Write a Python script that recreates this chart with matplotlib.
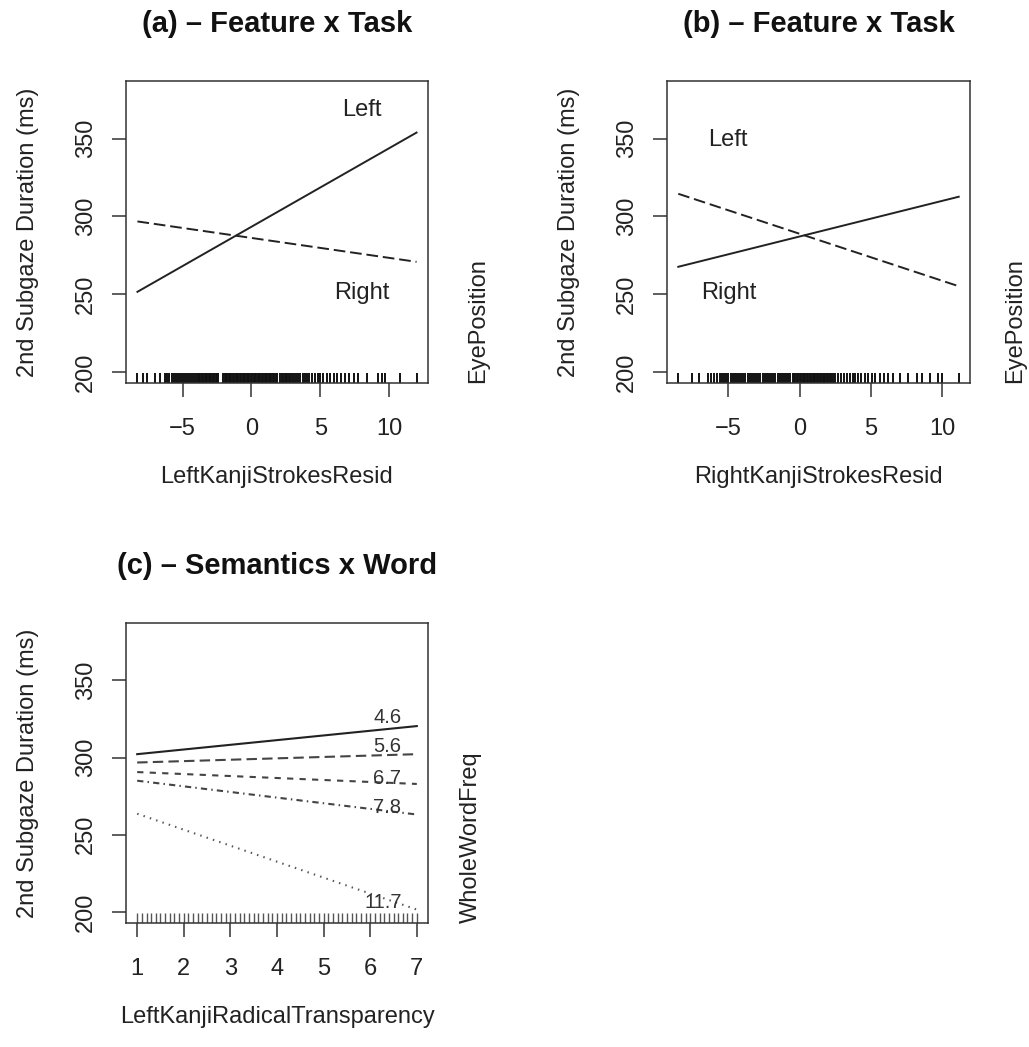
import matplotlib
matplotlib.use('Agg')
import matplotlib.pyplot as plt
import numpy as np

plt.rcParams['font.family'] = ['Liberation Sans', 'DejaVu Sans']

# ---- data ----
# panel (a): LeftKanjiStrokesResid x EyePosition
a_x = [-8.27, 11.97]
a_left = [251.5, 354.0]     # solid
a_right = [296.8, 270.8]    # dashed
a_rug = [-8.27, -7.9, -7.6, -7.0, -6.6, -6.3,
         -6.1, -5.95, -5.8, -5.65, -5.5, -5.35, -5.2, -5.05, -4.9, -4.75, -4.6,
         -4.45, -4.3, -4.15, -4.0, -3.9, -3.8, -3.7, -3.6, -3.5, -3.4, -3.3, -3.2,
         -3.1, -3.0, -2.9, -2.8, -2.7, -2.6, -2.5, -2.4, -2.05, -1.95, -1.85,
         -1.75, -1.65, -1.55, -1.45, -1.35, -1.25, -1.15, -1.05, -0.95, -0.85,
         -0.75, -0.65, -0.55, -0.45, -0.35, -0.25, -0.15, -0.05, 0.05, 0.15, 0.25,
         0.35, 0.45, 0.55, 0.65, 0.75, 0.85, 0.95, 1.05, 1.15, 1.25, 1.35, 1.45,
         1.55, 1.65, 1.75, 1.85, 2.1, 2.2, 2.3, 2.4, 2.5, 2.6, 2.7, 2.8, 2.95,
         3.1, 3.25, 3.4, 3.55, 3.7, 3.85, 4.0, 4.2, 4.4, 4.6, 4.8, 5.0, 5.2, 5.45,
         5.7, 5.95, 6.2, 6.5, 6.8, 7.1, 7.4, 7.7,
         8.4, 9.2, 9.5, 9.7, 10.8, 11.97]

# panel (b): RightKanjiStrokesResid x EyePosition
b_x = [-8.51, 11.14]
b_left = [267.6, 312.7]
b_right = [314.6, 255.1]
b_rug = [-8.51, -7.57, -7.08,
         -6.4, -6.2, -6.0, -5.8, -5.6, -5.45, -5.3, -5.15, -5.0, -4.85, -4.7,
         -4.55, -4.4, -4.25, -4.1, -3.95, -3.8, -3.65, -3.5, -3.35, -3.2, -3.05,
         -2.9, -2.75, -2.6, -2.45, -2.3, -2.15, -2.0, -1.85, -1.7, -1.55, -1.4,
         -1.25, -1.1, -0.95, -0.8, -0.65, -0.5, -0.4, -0.3, -0.2, -0.1, 0.0, 0.1,
         0.2, 0.3, 0.4, 0.5, 0.6, 0.7, 0.8, 0.9, 1.0, 1.1, 1.2, 1.3, 1.4, 1.5,
         1.6, 1.7, 1.8, 1.9, 2.0, 2.1, 2.2, 2.35, 2.5, 2.7, 2.9, 3.1, 3.3, 3.5,
         3.7, 3.9, 4.1, 4.3, 4.55, 4.8, 5.05, 5.3, 5.6, 5.9, 6.2, 6.5,
         7.0, 7.6, 8.2, 8.6, 9.1, 9.7, 10.0, 11.14]

# panel (c): LeftKanjiRadicalTransparency x WholeWordFreq
c_x = [1, 7]
c_freq = ['4.6', '5.6', '6.7', '7.8', '11.7']
c_start = [302.2, 296.8, 290.6, 285.0, 263.6]
c_end = [320.4, 302.2, 282.9, 263.1, 201.5]
c_lab_x = [6.37, 6.37, 6.37, 6.35, 6.27]
c_lab_y = [326.0, 307.0, 286.7, 267.4, 206.0]
c_rug = [1.0, 1.1, 1.2, 1.3, 1.4, 1.5, 1.6, 1.7, 1.8, 1.9, 2.0, 2.1, 2.2, 2.3, 2.4,
         2.5, 2.6, 2.7, 2.8, 2.9, 3.0, 3.1, 3.2, 3.3, 3.4, 3.5, 3.6, 3.7, 3.8, 3.9,
         4.0, 4.1, 4.2, 4.3, 4.4, 4.5, 4.6, 4.7, 4.8, 4.9, 5.0, 5.1, 5.2, 5.3, 5.4,
         5.5, 5.6, 5.7, 5.8, 5.9, 6.0, 6.1, 6.2, 6.3, 6.4, 6.5, 6.6, 6.7, 6.8, 6.9,
         7.0]

yticks = [200, 250, 300, 350]
ylim = (192.8, 387.2)
ylab = '2nd Subgaze Duration (ms)'

W, H = 1029, 1047
fig = plt.figure(figsize=(W / 100, H / 100), dpi=100)


def px(l, t, r, b):
    # pixel box -> figure fraction
    return [l / W, 1 - b / H, (r - l) / W, (b - t) / H]


def style_axes(ax, xticks, xlim):
    ax.set_xlim(xlim)
    ax.set_ylim(ylim)
    ax.set_xticks(xticks)
    ax.set_yticks(yticks)
    for s in ax.spines.values():
        s.set_linewidth(1.1)
        s.set_color('#333333')
    ax.tick_params(length=10, width=1.1, color='#333333', labelsize=17,
                   labelcolor='#222222')
    ax.tick_params(axis='x', pad=15)
    ax.tick_params(axis='y', pad=11)
    ax.set_yticklabels([str(v) for v in yticks], rotation=90, va='center')


def rug(ax, vals, lw=1.0, color='black'):
    ax.vlines(vals, 0, 0.032, transform=ax.get_xaxis_transform(),
              color=color, linewidth=lw)


def labels(ax, title, xlab, rlab, rx):
    bb = ax.get_position()
    cx = bb.x0 + bb.width / 2
    fig.text(cx, bb.y1 + 57 / H, title, ha='center', va='center',
             fontsize=21, fontweight='bold', color='#111111')
    fig.text(cx, bb.y0 - 94 / H, xlab, ha='center', va='center',
             fontsize=17, color='#222222')
    fig.text(bb.x0 - 98 / W, bb.y0 + bb.height / 2, ylab, rotation=90,
             ha='center', va='center', fontsize=17, color='#222222')
    fig.text(bb.x1 + rx / W, bb.y0, rlab, rotation=90, ha='center',
             va='bottom', fontsize=17, color='#222222')


lc = '#222222'
dash = (6, 2.5)

# (a)
ax1 = fig.add_axes(px(126, 81, 428, 383))
ax1.plot(a_x, a_left, color=lc, lw=1.4)
ax1.plot(a_x, a_right, color=lc, lw=1.4, dashes=dash)
ax1.text(8.0, 368.7, 'Left', ha='center', va='center', fontsize=17, color='#222222')
ax1.text(8.0, 251.0, 'Right', ha='center', va='center', fontsize=17, color='#222222')
rug(ax1, a_rug, lw=1.4, color='#111111')
style_axes(ax1, [-5, 0, 5, 10], (-9.1, 12.8))
labels(ax1, '(a) – Feature x Task', 'LeftKanjiStrokesResid', 'EyePosition', 50)

# (b)
ax2 = fig.add_axes(px(667, 81, 970, 383))
ax2.plot(b_x, b_left, color=lc, lw=1.4)
ax2.plot(b_x, b_right, color=lc, lw=1.4, dashes=dash)
ax2.text(-5.0, 349.0, 'Left', ha='center', va='center', fontsize=17, color='#222222')
ax2.text(-5.0, 251.0, 'Right', ha='center', va='center', fontsize=17, color='#222222')
rug(ax2, b_rug, lw=1.4, color='#111111')
style_axes(ax2, [-5, 0, 5, 10], (-9.3, 11.93))
labels(ax2, '(b) – Feature x Task', 'RightKanjiStrokesResid', 'EyePosition', 45)

# (c)
ax3 = fig.add_axes(px(126, 623, 428, 923))
c_styles = [dict(linestyle='-'), dict(dashes=(5, 2.5)), dict(dashes=(3, 3)),
            dict(dashes=(3, 2, 0.7, 2)), dict(dashes=(0.7, 2.5))]
c_cols = ['#222222', '#444444', '#444444', '#444444', '#555555']
for i in range(len(c_freq)):
    ax3.plot(c_x, [c_start[i], c_end[i]], color=c_cols[i], lw=1.5, **c_styles[i])
    ax3.text(c_lab_x[i], c_lab_y[i], c_freq[i], ha='center', va='center',
             fontsize=14.5, color='#333333')
rug(ax3, c_rug, lw=1.0, color='#555555')
style_axes(ax3, [1, 2, 3, 4, 5, 6, 7], (0.76, 7.24))
labels(ax3, '(c) – Semantics x Word', 'LeftKanjiRadicalTransparency', 'WholeWordFreq', 43)

fig.savefig('out.png', dpi=100)
